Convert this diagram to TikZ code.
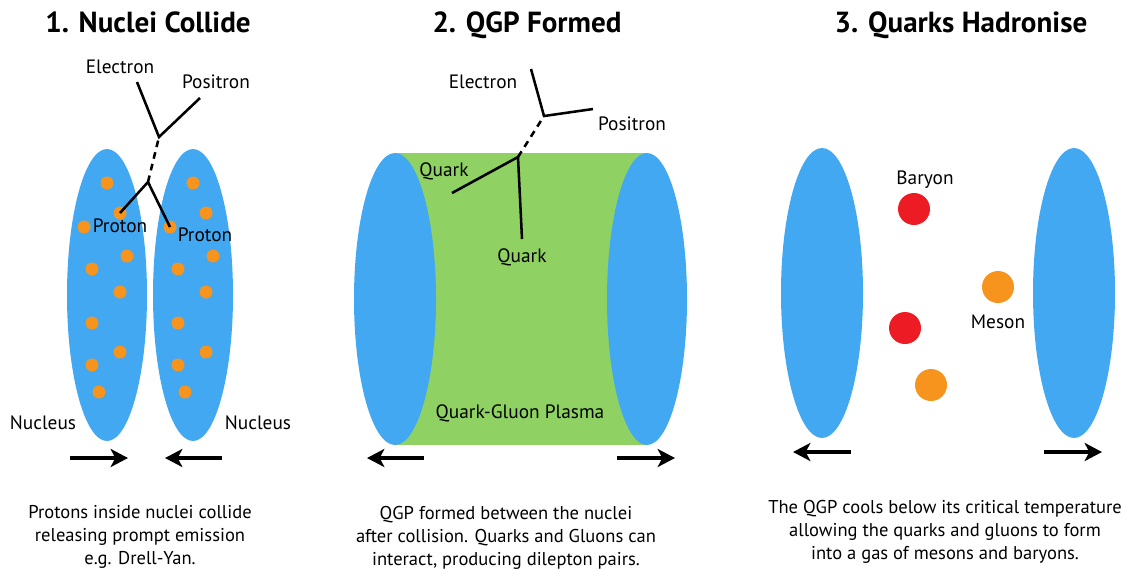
\documentclass[tikz,border=0pt]{standalone}
\usepackage{fontspec}
\setmainfont{PT Sans}
\usetikzlibrary{arrows.meta}

\definecolor{nucblue}{RGB}{66,168,242}
\definecolor{quarkorange}{RGB}{247,148,29}
\definecolor{plasmagreen}{RGB}{143,209,98}
\definecolor{baryonred}{RGB}{237,28,36}

\tikzset{
  nucleus/.style={fill=nucblue},
  proton/.style={circle, fill=quarkorange, inner sep=0pt, minimum size=9.75pt},
  hadron/.style={circle, inner sep=0pt, minimum size=24pt},
  track/.style={line width=1.9pt},
  virtual/.style={track, dash pattern=on 5pt off 4pt},
  motion/.style={line width=2.6pt, -{Stealth[length=13pt, width=13.5pt, inset=3.5pt]}},
  label/.style={anchor=base, inner sep=0pt, font=\fontsize{14.5}{17}\selectfont},
  heading/.style={anchor=base, inner sep=0pt, font=\fontsize{21.8}{26}\selectfont\bfseries},
  caption/.style={align=center, inner sep=0pt, font=\fontsize{13.9}{17}\selectfont}
}

\begin{document}
\begin{tikzpicture}[x=0.75pt, y=-0.75pt]
    \useasboundingbox (0,0) rectangle (1130,569);

    % 1. Nuclei collide
    \node[heading] (t1) at (148,32) {1. Nuclei Collide};
    \foreach \cx/\n in {107/a, 193/b} {
        \fill[nucleus] (\cx,295) ellipse [x radius=40, y radius=146];
        \foreach \dx/\dy [count=\k] in {0/183, 13/213, -23/227, 20/256, -15/269, 13/292, -15/323, 13/352, -15/365, -8/392}
            \node[proton] (p\n\k) at (\cx+\dx,\dy) {};
    }
    \coordinate (v1) at (148,182);
    \coordinate (g1) at (159,137);
    \coordinate (e1) at (137,82);
    \coordinate (f1) at (200,98);
    \draw[track] (pa2.center) -- (v1) -- (pb3.center);
    \draw[virtual] (v1) -- (g1);
    \draw[track] (e1) -- (g1) -- (f1);
    \node[label] (el1) at (120,73) {Electron};
    \node[label] (po1) at (216,88) {Positron};
    \node[label] (prl) at (120,232) {Proton};
    \node[label] (prr) at (205,241) {Proton};
    \node[label] (nul) at (43,429) {Nucleus};
    \node[label] (nur) at (258,429) {Nucleus};
    \coordinate (m1a) at (70,458);  \coordinate (m1b) at (128,458);
    \coordinate (m1c) at (222,458); \coordinate (m1d) at (165,458);
    \draw[motion] (m1a) -- (m1b);
    \draw[motion] (m1c) -- (m1d);
    \node[caption] (c1) at (140,537) {Protons inside nuclei collide\\releasing prompt emission\\e.g. Drell-Yan.};

    % 2. QGP formed
    \node[heading] (t2) at (527,32) {2. QGP Formed};
    \fill[plasmagreen] (395,153) rectangle (647,445);
    \fill[nucleus] (395,299) ellipse [x radius=41, y radius=146];
    \fill[nucleus] (647,299) ellipse [x radius=40, y radius=146];
    \coordinate (v2) at (518,157);
    \coordinate (q2a) at (452,193);
    \coordinate (q2b) at (522,239);
    \coordinate (g2) at (544,116);
    \coordinate (e2) at (531,69);
    \coordinate (f2) at (593,109);
    \draw[track] (q2a) -- (v2) -- (q2b);
    \draw[virtual] (v2) -- (g2);
    \draw[track] (e2) -- (g2) -- (f2);
    \node[label] (el2) at (483,88) {Electron};
    \node[label] (po2) at (632,130) {Positron};
    \node[label] (qka) at (444,176) {Quark};
    \node[label] (qkb) at (522,262) {Quark};
    \node[label] (qgp) at (520,418) {Quark-Gluon Plasma};
    \coordinate (m2a) at (424,458); \coordinate (m2b) at (367,458);
    \coordinate (m2c) at (617,458); \coordinate (m2d) at (675,458);
    \draw[motion] (m2a) -- (m2b);
    \draw[motion] (m2c) -- (m2d);
    \node[caption] (c2) at (506,538) {QGP formed between the nuclei\\after collision. Quarks and Gluons can\\interact, producing dilepton pairs.};

    % 3. Quarks hadronise
    \node[heading] (t3) at (961,32) {3. Quarks Hadronise};
    \fill[nucleus] (822,293) ellipse [x radius=41, y radius=145];
    \fill[nucleus] (1074,293) ellipse [x radius=41, y radius=145];
    \node[hadron, fill=baryonred] (ba) at (914,209) {};
    \node[hadron, fill=baryonred] (bb) at (905,328) {};
    \node[hadron, fill=quarkorange] (ma) at (998,287) {};
    \node[hadron, fill=quarkorange] (mb) at (931,385) {};
    \node[label] (bl) at (925,184) {Baryon};
    \node[label] (ml) at (998,328) {Meson};
    \coordinate (m3a) at (851,452);  \coordinate (m3b) at (793,452);
    \coordinate (m3c) at (1044,452); \coordinate (m3d) at (1102,452);
    \draw[motion] (m3a) -- (m3b);
    \draw[motion] (m3c) -- (m3d);
    \node[caption] (c3) at (945,532) {The QGP cools below its critical temperature\\allowing the quarks and gluons to form\\into a gas of mesons and baryons.};
\end{tikzpicture}
\end{document}
